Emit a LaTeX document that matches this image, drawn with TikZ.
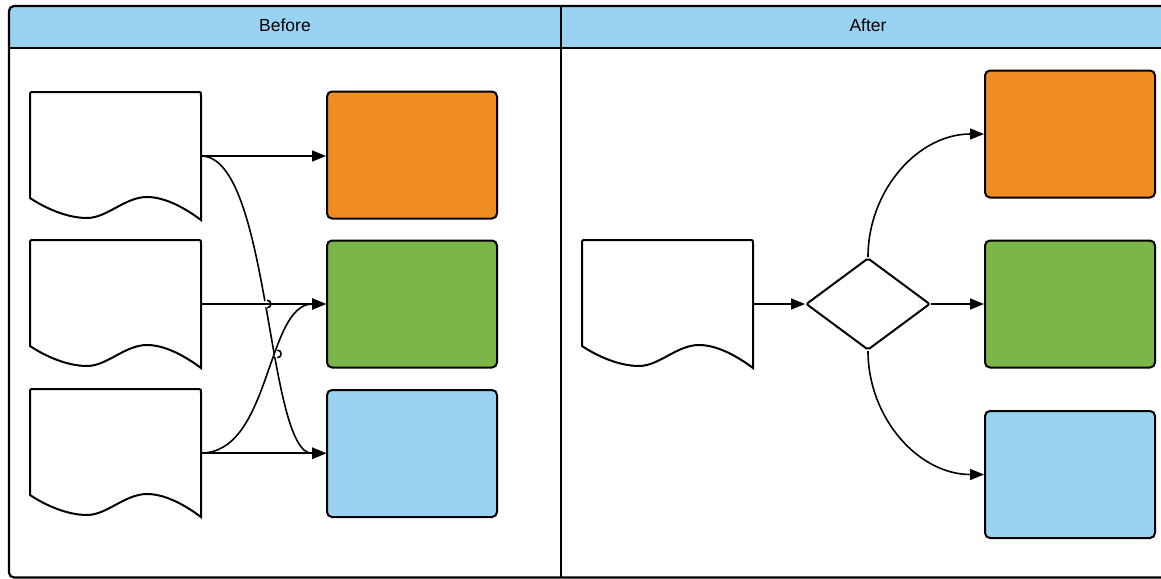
\documentclass[tikz,border=0pt]{standalone}
\usepackage{fontspec}
\setmainfont{Liberation Sans}
\usetikzlibrary{arrows.meta,shapes.geometric,intersections,calc}
\definecolor{lcorange}{HTML}{EF8D22}
\definecolor{lcgreen}{HTML}{7AB648}
\definecolor{lcblue}{HTML}{9AD3F2}
\tikzset{
  box/.style={draw=black, line width=2pt, rounded corners=5pt, minimum width=170pt, minimum height=127pt, inner sep=0pt},
  docnode/.style={minimum width=171pt, minimum height=128pt, inner sep=0pt, outer sep=0pt},
  docline/.style={draw=black, line width=2pt, fill=white},
  conn/.style={draw=black, line width=1.6pt, -{Triangle[length=14pt,width=11pt]}},
  jumpline/.style={draw=black, line width=1.6pt},
  frameline/.style={draw=black, line width=2.2pt},
  hdrtext/.style={font=\fontsize{17.5}{20}\selectfont, text=black, inner sep=0pt},
  decision/.style={diamond, draw=black, line width=2pt, fill=white, minimum width=124pt, minimum height=92pt, inner sep=0pt, rounded corners=2pt}
}
\newcommand\docoutline[1]{%
  \draw[docline, shift={(#1.north west)}] (0,106) -- (0,4) .. controls (0,0) .. (4,0) -- (167,0) .. controls (171,0) .. (171,4) -- (171,128)
    .. controls (155,116) and (135,105) .. (117,105)
    .. controls (95,105) and (77,126) .. (57,126)
    .. controls (37,126) and (15,116) .. (0,106) -- cycle;}
\begin{document}
\begin{tikzpicture}[x=1pt,y=-1pt]
\useasboundingbox (0,0) rectangle (1161,578);
\clip (0,0) rectangle (1161,578);
% frame and headers
\fill[white] (0,0) rectangle (1161,578);
\fill[lcblue, rounded corners=5pt] (9,6) -- (1175,6) -- (1175,48) -- (9,48) -- cycle;
\draw[frameline, rounded corners=5pt] (9,6) rectangle (1175,577.5);
\draw[frameline] (9,48) -- (1175,48);
\draw[frameline] (561,6) -- (561,578);
\node[hdrtext] (tb) at (285,25) {Before};
\node[hdrtext] (ta) at (868,25) {After};
% left panel
\node[docnode] (d1) at (115.5,156) {};
\node[docnode] (d2) at (115.5,304) {};
\node[docnode] (d3) at (115.5,453) {};
\docoutline{d1}\docoutline{d2}\docoutline{d3}
\node[box, fill=lcorange] (o1) at (412,155) {};
\node[box, fill=lcgreen] (g1) at (412,304) {};
\node[box, fill=lcblue] (b1) at (412,453.5) {};
\draw[conn] (d1.east) -- (d1.east -| o1.west);
\path[name path=H2] (d2.east) -- (d2.east -| g1.west);
\path[name path=B] (d3.east) .. controls +(70,0) and +(-60,0) .. (g1.west);
\draw[conn, name path=A] (d1.east) .. controls +(70,0) and +(-60,0) .. (b1.west);
\path[name intersections={of=A and H2, by=j1}];
\path[name intersections={of=A and B, by=j2}];
\foreach \j in {j1,j2} {
  \fill[white] (\j) circle[radius=3.8pt];
  \draw[jumpline] ($(\j)+(0,-3.8)$) .. controls +(5,0) and +(5,0) .. ($(\j)+(0,3.8)$);
}
\draw[conn] (d2.east) -- (d2.east -| g1.west);
\draw[conn] (d3.east) .. controls +(70,0) and +(-60,0) .. (g1.west);
\draw[conn] (d3.east) -- (d3.east -| b1.west);
% right panel
\node[docnode] (d4) at (667.5,304) {};
\docoutline{d4}
\node[decision] (dia) at (868,304) {};
\node[box, fill=lcorange] (o2) at (1070,134) {};
\node[box, fill=lcgreen] (g2) at (1070,304) {};
\node[box, fill=lcblue] (b2) at (1070,474.5) {};
\draw[conn] (d4.east) -- (dia.west);
\draw[conn] (dia.east) -- (g2.west);
\draw[conn] (dia.north) to[out=90,in=180] (o2.west);
\draw[conn] (dia.south) to[out=-90,in=180] (b2.west);
\end{tikzpicture}
\end{document}
